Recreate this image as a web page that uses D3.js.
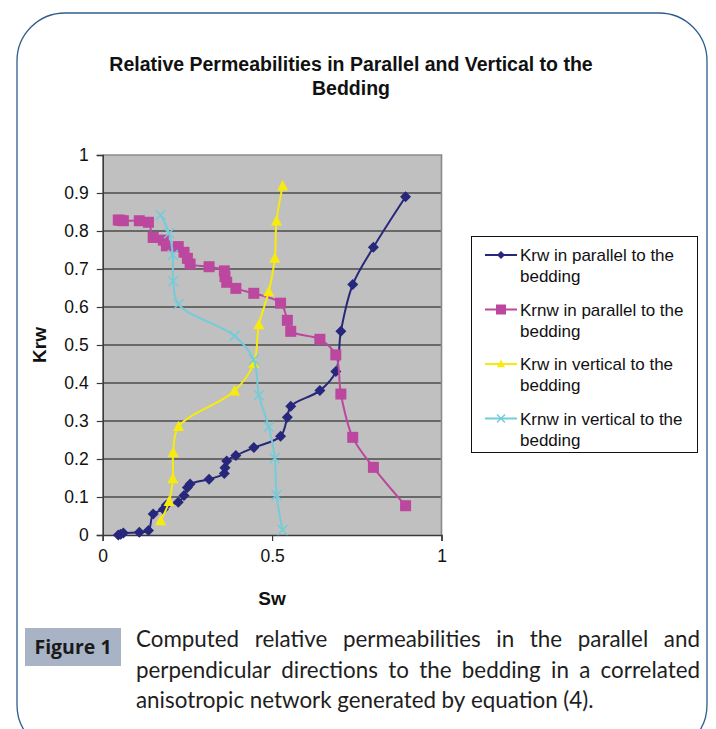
<!DOCTYPE html>
<html>
<head>
<meta charset="utf-8">
<script src="https://cdn.jsdelivr.net/npm/d3@7"></script>
<style>
  html, body { margin: 0; padding: 0; background: #fff; }
  svg { display: block; }
</style>
</head>
<body>
<svg id="chart" width="716" height="729"></svg>
<script>
// ---------- data ----------
const chartTitle = ["Relative Permeabilities in Parallel and Vertical to the", "Bedding"];
const xTitle = "Sw";
const yTitle = "Krw";
const xTicks = [0, 0.5, 1];
const yTicks = [0, 0.1, 0.2, 0.3, 0.4, 0.5, 0.6, 0.7, 0.8, 0.9, 1];

const swParallel = [0.046,0.053,0.061,0.108,0.135,0.149,0.179,0.188,0.223,0.240,0.250,0.258,0.314,0.359,0.361,0.366,0.393,0.446,0.525,0.545,0.555,0.641,0.688,0.703,0.738,0.799,0.894];
const krwParallel = [0.000,0.002,0.005,0.007,0.012,0.055,0.068,0.079,0.086,0.104,0.125,0.134,0.147,0.162,0.177,0.195,0.209,0.230,0.260,0.310,0.339,0.380,0.430,0.536,0.659,0.757,0.890];
const krnwParallel = [0.829,0.828,0.827,0.827,0.823,0.783,0.776,0.761,0.759,0.744,0.728,0.713,0.706,0.695,0.680,0.665,0.649,0.636,0.610,0.565,0.536,0.515,0.474,0.371,0.257,0.178,0.077];

const swVertical = [0.171,0.196,0.207,0.208,0.224,0.389,0.446,0.461,0.490,0.508,0.513,0.531];
const krwVertical = [0.037,0.088,0.148,0.217,0.285,0.379,0.452,0.553,0.640,0.728,0.826,0.918];
const krnwVertical = [0.842,0.794,0.737,0.668,0.607,0.524,0.461,0.368,0.285,0.202,0.105,0.013];

const seriesNames = ["Krw in parallel to the bedding", "Krnw in parallel to the bedding", "Krw in vertical to the bedding", "Krnw in vertical to the bedding"];

const captionLabel = "Figure 1";
const captionLines = [
  "Computed relative permeabilities in the parallel and",
  "perpendicular directions to the bedding in a correlated",
  "anisotropic network generated by equation (4)."
];

// ---------- styles ----------
const series = [
  { name: seriesNames[0], xs: swParallel, ys: krwParallel, color: "#27277B", marker: "diamond" },
  { name: seriesNames[1], xs: swParallel, ys: krnwParallel, color: "#BC479E", marker: "square" },
  { name: seriesNames[2], xs: swVertical, ys: krwVertical, color: "#F6EB0C", marker: "triangle" },
  { name: seriesNames[3], xs: swVertical, ys: krnwVertical, color: "#73CCDA", marker: "cross" }
];

const svg = d3.select("#chart");
const FONT = "'Liberation Sans', Arial, sans-serif";

// outer rounded frame
svg.append("rect")
  .attr("x", 17).attr("y", 13).attr("width", 690).attr("height", 740)
  .attr("rx", 48).attr("ry", 48)
  .attr("fill", "none").attr("stroke", "#2F5E8E").attr("stroke-width", 1.3);

// plot geometry
const plot = { left: 102.7, right: 441.5, top: 155, bottom: 535 };
const x = d3.scaleLinear().domain([0, 1]).range([plot.left, plot.right]);
const y = d3.scaleLinear().domain([0, 1]).range([plot.bottom, plot.top]);

// title
svg.append("text")
  .attr("x", 350).attr("y", 0)
  .attr("font-family", FONT).attr("font-weight", "bold").attr("font-size", 19.5)
  .attr("text-anchor", "middle").attr("fill", "#111")
  .selectAll("tspan").data(chartTitle).join("tspan")
  .attr("x", 351).attr("y", (d, i) => 71 + i * 24).text(d => d);

// plot background
svg.append("rect")
  .attr("x", plot.left).attr("y", plot.top)
  .attr("width", plot.right - plot.left).attr("height", plot.bottom - plot.top)
  .attr("fill", "#C0C0C0");

// gridlines
svg.append("g").selectAll("line")
  .data(yTicks.filter(v => v > 0 && v < 1)).join("line")
  .attr("x1", plot.left).attr("x2", plot.right)
  .attr("y1", d => y(d)).attr("y2", d => y(d))
  .attr("stroke", "#111").attr("stroke-width", 1.2);

// plot border (top, right)
svg.append("path")
  .attr("d", `M${plot.left},${plot.top}H${plot.right}V${plot.bottom}`)
  .attr("fill", "none").attr("stroke", "#8A8A8A").attr("stroke-width", 1.6);

// axes
const yAxis = d3.axisLeft(y).tickValues(yTicks).tickSize(6).tickPadding(8)
  .tickFormat(d => d3.format("~g")(d));
const gy = svg.append("g").attr("transform", `translate(${plot.left},0)`).call(yAxis);
const xAxis = d3.axisBottom(x).tickValues(xTicks).tickSize(6).tickPadding(9)
  .tickFormat(d => d3.format("~g")(d));
const gx = svg.append("g").attr("transform", `translate(0,${plot.bottom})`).call(xAxis);
[gx, gy].forEach(g => {
  g.select(".domain").attr("stroke", "#3A3A3A").attr("stroke-width", 1.6);
  g.selectAll(".tick line").attr("stroke", "#3A3A3A").attr("stroke-width", 1.2);
  g.selectAll(".tick text").attr("font-family", FONT).attr("font-size", 17.5).attr("fill", "#111");
});

// axis titles
svg.append("text")
  .attr("x", 272).attr("y", 605)
  .attr("font-family", FONT).attr("font-weight", "bold").attr("font-size", 19)
  .attr("text-anchor", "middle").attr("fill", "#111").text(xTitle);
svg.append("text")
  .attr("transform", "translate(46,345) rotate(-90)")
  .attr("font-family", FONT).attr("font-weight", "bold").attr("font-size", 19)
  .attr("text-anchor", "middle").attr("fill", "#111").text(yTitle);

// markers
function drawMarker(g, type, color, size) {
  if (type === "diamond") {
    const s = size / 2;
    g.append("path").attr("d", `M0,${-s}L${s},0L0,${s}L${-s},0Z`).attr("fill", color);
  } else if (type === "square") {
    const s = size / 2;
    g.append("rect").attr("x", -s).attr("y", -s).attr("width", size).attr("height", size).attr("fill", color);
  } else if (type === "triangle") {
    const s = size / 2;
    g.append("path").attr("d", `M0,${-s * 1.1}L${s},${s * 0.8}L${-s},${s * 0.8}Z`).attr("fill", color);
  } else if (type === "cross") {
    const s = size / 2;
    g.append("path").attr("d", `M${-s},${-s}L${s},${s}M${-s},${s}L${s},${-s}`)
      .attr("stroke", color).attr("stroke-width", 1.5).attr("fill", "none");
  }
}
const markerSize = { diamond: 11, square: 11, triangle: 11, cross: 10 };

const line = d3.line().x(d => x(d[0])).y(d => y(d[1])).curve(d3.curveCatmullRom.alpha(0.5));
series.forEach(s => {
  const pts = s.xs.map((v, i) => [v, s.ys[i]]);
  const g = svg.append("g");
  g.append("path").datum(pts).attr("d", line)
    .attr("fill", "none").attr("stroke", s.color).attr("stroke-width", 2);
  g.selectAll("g.m").data(pts).join("g").attr("class", "m")
    .attr("transform", d => `translate(${x(d[0])},${y(d[1])})`)
    .each(function () { drawMarker(d3.select(this), s.marker, s.color, markerSize[s.marker]); });
});

// legend
const legend = svg.append("g");
legend.append("rect")
  .attr("x", 471.5).attr("y", 236.5).attr("width", 226).attr("height", 216)
  .attr("fill", "#fff").attr("stroke", "#111").attr("stroke-width", 1);
series.forEach((s, i) => {
  const cy = 255 + i * 54.5;
  const g = legend.append("g");
  g.append("line").attr("x1", 485).attr("x2", 517).attr("y1", cy).attr("y2", cy)
    .attr("stroke", s.color).attr("stroke-width", 2);
  const mg = g.append("g").attr("transform", `translate(501,${cy})`);
  drawMarker(mg, s.marker, s.color, s.marker === "square" ? 10 : 8);
  const words = s.name.split(" ");
  const l1 = words.slice(0, words.length - 1).join(" ");
  const l2 = words[words.length - 1];
  const t = g.append("text").attr("font-family", FONT).attr("font-size", 17).attr("fill", "#111");
  t.append("tspan").attr("x", 520).attr("y", cy + 6).text(l1);
  t.append("tspan").attr("x", 520).attr("y", cy + 27).text(l2);
});

// caption
svg.append("rect").attr("x", 25).attr("y", 628).attr("width", 96).attr("height", 38).attr("fill", "#A9B3C6");
svg.append("text").attr("x", 73).attr("y", 654)
  .attr("font-family", "'Open Sans', 'Noto Sans', sans-serif").attr("font-weight", "bold")
  .attr("font-size", 19.5).attr("text-anchor", "middle").attr("fill", "#1a1a1a").text(captionLabel);

const capFont = "Lato, 'Open Sans', sans-serif";
const capX0 = 136, capX1 = 700;
const capBaselines = [647, 678, 708];
// size caption so that last line spans measured width
const probe = svg.append("text").attr("font-family", capFont).attr("font-size", 20).text(captionLines[2]);
const w20 = probe.node().getComputedTextLength();
probe.remove();
const capSize = 20 * 458 / w20;
captionLines.forEach((ln, i) => {
  const justify = i < captionLines.length - 1;
  const words = ln.split(" ");
  const g = svg.append("g");
  const nodes = words.map(w => g.append("text").attr("font-family", capFont)
    .attr("font-size", capSize).attr("fill", "#1e1e1e").attr("y", capBaselines[i]).text(w));
  const widths = nodes.map(n => n.node().getComputedTextLength());
  const total = d3.sum(widths);
  const spaceW = justify ? (capX1 - capX0 - total) / (words.length - 1) : capSize * 0.25;
  let cx = capX0;
  nodes.forEach((n, k) => { n.attr("x", cx); cx += widths[k] + spaceW; });
});
</script>
</body>
</html>
